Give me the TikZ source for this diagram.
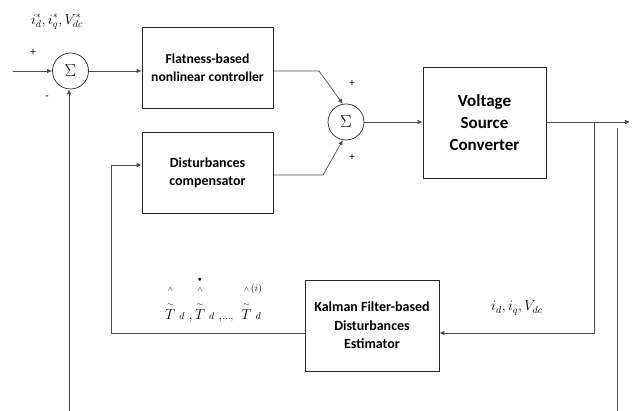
\documentclass[tikz,border=0pt]{standalone}
\usepackage{fontspec}
\setmainfont{Carlito}
\usetikzlibrary{arrows.meta}
\newcommand{\hts}[1]{\begin{array}[b]{@{}c@{}}\scriptscriptstyle #1\\[-1pt]\scriptscriptstyle\sim\\[-3pt] T\end{array}}
\newcommand{\htsd}{\begin{array}[b]{@{}c@{}}\scriptscriptstyle\bullet\\[-6pt]\scriptscriptstyle\wedge\\[-1pt]\scriptscriptstyle\sim\\[-3pt] T\end{array}}
\begin{document}
\begin{tikzpicture}[x=1pt,y=-1pt,
  ln/.style={line width=0.7pt, draw=black!70},
  arr/.style={ln,-{Latex[length=5pt,width=4.5pt]}},
  blk/.style={draw=black!85, line width=0.8pt, rectangle, align=center, inner sep=0pt},
  sumc/.style={draw=black!85, line width=0.7pt, circle, minimum size=36pt, inner sep=0pt, font=\fontsize{16}{16}\selectfont},
  sgn/.style={inner sep=0pt, font=\fontsize{11}{11}\selectfont},
  mlbl/.style={inner sep=0pt, font=\fontsize{14}{16}\selectfont},
  txt/.style={font=\fontsize{14}{18.5}\selectfont\bfseries},
  bigtxt/.style={font=\fontsize{17}{22}\selectfont\bfseries}
]
\useasboundingbox (0,0) rectangle (633,411);
% summing junctions
\node[sumc] (s1) at (70.5,71) {$\Sigma$};
\node[sumc] (s2) at (346,122) {$\Sigma$};
% blocks
\node[blk, font=\fontsize{13.6}{18}\selectfont\bfseries, minimum width=131pt, minimum height=81pt] (ctrl) at (207.5,67.5) {Flatness-based\\nonlinear controller};
\node[blk, txt, minimum width=131pt, minimum height=81pt] (comp) at (207.5,172.5) {Disturbances\\compensator};
\node[blk, bigtxt, minimum width=123pt, minimum height=111pt] (vsc) at (484.5,122.5) {Voltage\\Source\\Converter};
\node[blk, txt, minimum width=134pt, minimum height=91pt] (est) at (372,325.5) {Kalman Filter-based\\Disturbances\\Estimator};
% signs
\node[sgn] (p1) at (33,52) {+};
\node[sgn] (m1) at (47,98) {-};
\node[sgn] (p2) at (352,83) {+};
\node[sgn] (p3) at (352,157) {+};
% labels
\node[mlbl] (ref) at (57,22) {$i_d^*,i_q^*,V_{dc}^*$};
\node[mlbl] (meas) at (517,308) {$i_d,i_q,V_{dc}$};
\node[mlbl, anchor=base] (tdl) at (213,320) {$\hts{\wedge}\;{\scriptstyle d}\;,\htsd\;{\scriptstyle d}\;{,}{\scriptstyle\ldots,}\;\;\hts{\wedge\rlap{$\scriptstyle\,(i)$}}\;{\scriptstyle d}$};
% coordinates
\coordinate (in) at (13,71);
\coordinate (c1) at (319,71);
\coordinate (c2) at (323,175);
\coordinate (out) at (630,122);
\coordinate (br) at (594,122);
\coordinate (br2) at (594,333);
\coordinate (fb1) at (111,333);
\coordinate (fb2) at (111,165);
\coordinate (bot1) at (69,411);
\coordinate (r1) at (617,128);
\coordinate (r2) at (617,411);
% connectors
\draw[arr] (in) -- (s1.west);
\draw[arr] (s1.east) -- (s1.east -| ctrl.west);
\draw[arr] (s1.east -| ctrl.east) -- (c1) -- (s2.100);
\draw[arr] (c2 -| comp.east) -- (c2) -- (s2.260);
\draw[arr] (s2.east) -- (s2.east -| vsc.west);
\draw[arr] (s2.east -| vsc.east) -- (out);
\draw[arr] (br) -- (br2) -- (br2 -| est.east);
\draw[arr] (fb1 -| est.west) -- (fb1) -- (fb2) -- (fb2 -| comp.west);
\draw[arr] (bot1) -- (bot1 |- s1.south);
\draw[ln] (r1) -- (r2);
\end{tikzpicture}
\end{document}
